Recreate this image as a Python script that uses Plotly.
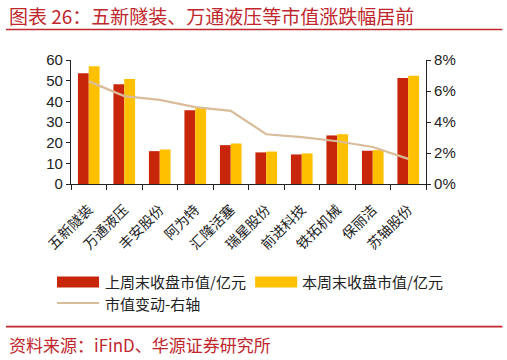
import plotly.graph_objects as go

categories = ["五新隧装", "万通液压", "丰安股份", "阿为特", "汇隆活塞",
              "瑞星股份", "前进科技", "铁拓机械", "保丽洁", "苏轴股份"]
last_week = [53.6, 48.3, 15.9, 35.7, 18.8, 15.3, 14.3, 23.5, 16.1, 51.3]
this_week = [57.0, 50.8, 16.7, 37.0, 19.6, 15.7, 14.8, 24.1, 16.4, 52.4]
change = [0.0662, 0.0567, 0.0543, 0.0496, 0.0472, 0.0321, 0.0302, 0.0276, 0.0239, 0.0162]

title_text = "图表 26：五新隧装、万通液压等市值涨跌幅居前"
source_text = "资料来源：iFinD、华源证券研究所"
legend_names = ["上周末收盘市值/亿元", "本周末收盘市值/亿元", "市值变动-右轴"]

RED = "#C8260A"
YEL = "#FFC000"
TAN = "#D9BC9A"
HEAD = "#C0272D"
FONT = "Liberation Sans, Arial, Noto Sans CJK SC"
CJK = "Noto Sans CJK SC, Liberation Sans"

W, H = 507, 360
L, R, T, B = 71, 81.3, 60, 175.7
pw = W - L - R
ph = H - T - B

def px(x):
    return (x - L) / pw

def py(y):
    return (H - B - y) / ph

fig = go.Figure()
fig.add_trace(go.Bar(x=categories, y=last_week, name=legend_names[0],
                     marker=dict(color=RED, line=dict(width=0)), showlegend=False))
fig.add_trace(go.Bar(x=categories, y=this_week, name=legend_names[1],
                     marker=dict(color=YEL, line=dict(width=0)), showlegend=False))
fig.add_trace(go.Scatter(x=categories, y=change, name=legend_names[2], yaxis="y2",
                         mode="lines", line=dict(color=TAN, width=2.2), showlegend=False))

shapes = [
    dict(type="line", xref="paper", yref="paper", x0=px(6), x1=px(502), y0=py(29.5), y1=py(29.5),
         line=dict(color=HEAD, width=1.6)),
    dict(type="line", xref="paper", yref="paper", x0=px(6), x1=px(502), y0=py(327.3), y1=py(327.3),
         line=dict(color=HEAD, width=1.6)),
    dict(type="rect", xref="paper", yref="paper", x0=px(57), x1=px(99), y0=py(288), y1=py(277),
         fillcolor=RED, line=dict(width=0)),
    dict(type="rect", xref="paper", yref="paper", x0=px(255), x1=px(297), y0=py(288), y1=py(277),
         fillcolor=YEL, line=dict(width=0)),
    dict(type="line", xref="paper", yref="paper", x0=px(57), x1=px(99), y0=py(303.5), y1=py(303.5),
         line=dict(color=TAN, width=2)),
]

annotations = [
    dict(text=title_text, xref="paper", yref="paper", x=px(7), y=py(15.5), xanchor="left", yanchor="middle",
         showarrow=False, font=dict(family=CJK, size=19, color=HEAD)),
    dict(text=source_text, xref="paper", yref="paper", x=px(7), y=py(345), xanchor="left", yanchor="middle",
         showarrow=False, font=dict(family=CJK, size=17, color=HEAD)),
    dict(text=legend_names[0], xref="paper", yref="paper", x=px(103), y=py(282.5), xanchor="left",
         yanchor="middle", showarrow=False, font=dict(family=CJK, size=15, color="#222")),
    dict(text=legend_names[1], xref="paper", yref="paper", x=px(300), y=py(282.5), xanchor="left",
         yanchor="middle", showarrow=False, font=dict(family=CJK, size=15, color="#222")),
    dict(text=legend_names[2], xref="paper", yref="paper", x=px(103), y=py(304), xanchor="left",
         yanchor="middle", showarrow=False, font=dict(family=CJK, size=15, color="#222")),
]

fig.update_layout(
    width=W, height=H,
    margin=dict(l=L, r=R, t=T, b=B, pad=0),
    paper_bgcolor="white", plot_bgcolor="white",
    barmode="group", bargap=0.39, bargroupgap=0,
    font=dict(family=FONT, size=15, color="#222"),
    xaxis=dict(showline=True, linecolor="#222", linewidth=1.2, ticks="outside", ticklen=5,
               tickcolor="#222", tickson="boundaries", tickangle=-45, ticklabelstandoff=11,
               tickfont=dict(family=CJK, size=14, color="#222"), showgrid=False, zeroline=False),
    yaxis=dict(range=[0, 60], dtick=10, showline=True, linecolor="#222", linewidth=1.2,
               ticks="outside", ticklen=4, tickcolor="#222", showgrid=False, zeroline=False,
               tickfont=dict(size=15)),
    yaxis2=dict(range=[0, 0.08], dtick=0.02, tickformat=".0%", overlaying="y", side="right",
                showline=True, linecolor="#222", linewidth=1.2, ticks="outside", ticklen=4,
                tickcolor="#222", showgrid=False, zeroline=False, tickfont=dict(size=15)),
    shapes=shapes,
    annotations=annotations,
    showlegend=False,
)

fig.write_html("out.html", config={"displayModeBar": False},
               post_script="document.body.style.margin='0px';document.body.style.overflow='hidden';")
